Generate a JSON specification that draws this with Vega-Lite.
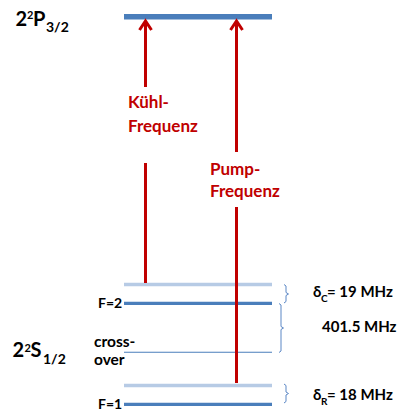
{
  "$schema": "https://vega.github.io/schema/vega-lite/v6.json",
  "width": 398,
  "height": 414,
  "padding": 0,
  "autosize": {"type": "fit", "contains": "padding"},
  "config": {"view": {"stroke": null}, "font": "Lato"},
  "datasets": {
    "levels": [
      {"state": "2P3/2", "x1": 124, "x2": 272, "y": 16.8, "kind": "upper"},
      {"state": "F=2 + δC", "x1": 124, "x2": 272, "y": 284.5, "kind": "shifted"},
      {"state": "F=2", "x1": 124, "x2": 272, "y": 303.3, "kind": "ground"},
      {"state": "crossover", "x1": 124, "x2": 272, "y": 352.3, "kind": "crossover"},
      {"state": "F=1 + δR", "x1": 124, "x2": 272, "y": 385.5, "kind": "shifted"},
      {"state": "F=1", "x1": 124, "x2": 272, "y": 404.3, "kind": "ground"}
    ],
    "arrows": [
      {"transition": "Kühl", "x": 145.5, "y1": 21, "y2": 87},
      {"transition": "Kühl", "x": 145.5, "y1": 163, "y2": 283},
      {"transition": "Pump", "x": 236.5, "y1": 21, "y2": 152},
      {"transition": "Pump", "x": 236.5, "y1": 207, "y2": 383}
    ],
    "heads": [
      {"transition": "Kühl", "x": 145.5, "y": 25.5},
      {"transition": "Pump", "x": 236.5, "y": 25.5}
    ],
    "braces": [
      {"b": "C", "o": 1, "x": 284, "y": 284.5},
      {"b": "C", "o": 2, "x": 286, "y": 286},
      {"b": "C", "o": 3, "x": 286, "y": 292.5},
      {"b": "C", "o": 4, "x": 288.5, "y": 294},
      {"b": "C", "o": 5, "x": 286, "y": 295.5},
      {"b": "C", "o": 6, "x": 286, "y": 301.5},
      {"b": "C", "o": 7, "x": 284, "y": 303},
      {"b": "X", "o": 1, "x": 279, "y": 303.5},
      {"b": "X", "o": 2, "x": 281, "y": 305},
      {"b": "X", "o": 3, "x": 281, "y": 326.5},
      {"b": "X", "o": 4, "x": 283.5, "y": 328},
      {"b": "X", "o": 5, "x": 281, "y": 329.5},
      {"b": "X", "o": 6, "x": 281, "y": 351},
      {"b": "X", "o": 7, "x": 279, "y": 352.5},
      {"b": "R", "o": 1, "x": 284, "y": 384},
      {"b": "R", "o": 2, "x": 286, "y": 385.5},
      {"b": "R", "o": 3, "x": 286, "y": 392},
      {"b": "R", "o": 4, "x": 288.5, "y": 393.5},
      {"b": "R", "o": 5, "x": 286, "y": 395},
      {"b": "R", "o": 6, "x": 286, "y": 401.5},
      {"b": "R", "o": 7, "x": 284, "y": 403}
    ],
    "labels": [
      {"text": "2", "x": 15.5, "y": 25.7, "kind": "big"},
      {"text": "2", "x": 27, "y": 19, "kind": "sup"},
      {"text": "P", "x": 33, "y": 25.7, "kind": "big"},
      {"text": "3/2", "x": 46, "y": 32.3, "kind": "sub"},
      {"text": "2", "x": 12.5, "y": 356.7, "kind": "big"},
      {"text": "2", "x": 24.5, "y": 351.7, "kind": "sup"},
      {"text": "S", "x": 30.5, "y": 356.7, "kind": "big"},
      {"text": "1/2", "x": 43, "y": 364.3, "kind": "sub"},
      {"text": "F=2", "x": 98, "y": 308.3, "kind": "label"},
      {"text": "F=1", "x": 98, "y": 409.3, "kind": "label"},
      {"text": "cross-", "x": 94, "y": 346.7, "kind": "cross"},
      {"text": "over", "x": 94, "y": 365, "kind": "cross"},
      {"text": "401.5 MHz", "x": 322, "y": 332, "kind": "right"},
      {"text": "δ", "x": 313, "y": 297, "kind": "right"},
      {"text": "C", "x": 321, "y": 302, "kind": "small"},
      {"text": "= 19 MHz", "x": 327, "y": 297, "kind": "right"},
      {"text": "δ", "x": 313, "y": 400, "kind": "right"},
      {"text": "R", "x": 321, "y": 405, "kind": "small"},
      {"text": "= 18 MHz", "x": 327, "y": 400, "kind": "right"},
      {"text": "Kühl-", "x": 128, "y": 108, "kind": "red"},
      {"text": "Frequenz", "x": 128, "y": 132, "kind": "red"},
      {"text": "Pump-", "x": 210, "y": 175, "kind": "red"},
      {"text": "Frequenz", "x": 210, "y": 197, "kind": "red"}
    ]
  },
  "layer": [
    {
      "data": {"name": "levels"},
      "mark": {"type": "rule", "strokeCap": "butt"},
      "encoding": {
        "x": {"field": "x1", "type": "quantitative", "scale": {"domain": [0, 398], "nice": false, "zero": false}, "axis": null},
        "x2": {"field": "x2"},
        "y": {"field": "y", "type": "quantitative", "scale": {"domain": [0, 414], "nice": false, "zero": false, "reverse": true}, "axis": null},
        "color": {"field": "kind", "type": "nominal", "legend": null,
          "scale": {"type": "ordinal", "domain": ["upper", "shifted", "ground", "crossover"], "range": ["#4a7ebb", "#b7cbe5", "#4a7ebb", "#4a7ebb"]}},
        "strokeWidth": {"field": "kind", "type": "nominal", "legend": null,
          "scale": {"type": "ordinal", "domain": ["upper", "shifted", "ground", "crossover"], "range": [5.5, 3.3, 3.3, 1.1]}}
      }
    },
    {
      "data": {"name": "arrows"},
      "mark": {"type": "rule", "color": "#c00000", "strokeWidth": 3, "strokeCap": "butt"},
      "encoding": {
        "x": {"field": "x", "type": "quantitative"},
        "y": {"field": "y1", "type": "quantitative"},
        "y2": {"field": "y2"}
      }
    },
    {
      "data": {"name": "heads"},
      "mark": {"type": "point", "shape": "M-1,0.75L0,-0.75L1,0.75", "filled": false, "stroke": "#c00000", "strokeWidth": 3, "size": 144, "opacity": 1, "strokeJoin": "miter"},
      "encoding": {
        "x": {"field": "x", "type": "quantitative"},
        "y": {"field": "y", "type": "quantitative"}
      }
    },
    {
      "data": {"name": "braces"},
      "mark": {"type": "line", "color": "#5b87c5", "strokeWidth": 1},
      "encoding": {
        "x": {"field": "x", "type": "quantitative"},
        "y": {"field": "y", "type": "quantitative"},
        "detail": {"field": "b"},
        "order": {"field": "o", "type": "quantitative"}
      }
    },
    {
      "data": {"name": "labels"},
      "transform": [{"filter": "datum.kind === 'big'"}],
      "mark": {"type": "text", "align": "left", "baseline": "alphabetic", "fontWeight": "bold", "fontSize": 20, "color": "#000000"},
      "encoding": {"x": {"field": "x", "type": "quantitative"}, "y": {"field": "y", "type": "quantitative"}, "text": {"field": "text"}}
    },
    {
      "data": {"name": "labels"},
      "transform": [{"filter": "datum.kind === 'sup'"}],
      "mark": {"type": "text", "align": "left", "baseline": "alphabetic", "fontWeight": "bold", "fontSize": 11, "color": "#000000"},
      "encoding": {"x": {"field": "x", "type": "quantitative"}, "y": {"field": "y", "type": "quantitative"}, "text": {"field": "text"}}
    },
    {
      "data": {"name": "labels"},
      "transform": [{"filter": "datum.kind === 'sub'"}],
      "mark": {"type": "text", "align": "left", "baseline": "alphabetic", "fontWeight": "bold", "fontSize": 14, "color": "#000000"},
      "encoding": {"x": {"field": "x", "type": "quantitative"}, "y": {"field": "y", "type": "quantitative"}, "text": {"field": "text"}}
    },
    {
      "data": {"name": "labels"},
      "transform": [{"filter": "datum.kind === 'label'"}],
      "mark": {"type": "text", "align": "left", "baseline": "alphabetic", "fontWeight": "bold", "fontSize": 14, "color": "#000000"},
      "encoding": {"x": {"field": "x", "type": "quantitative"}, "y": {"field": "y", "type": "quantitative"}, "text": {"field": "text"}}
    },
    {
      "data": {"name": "labels"},
      "transform": [{"filter": "datum.kind === 'cross'"}],
      "mark": {"type": "text", "align": "left", "baseline": "alphabetic", "fontWeight": "bold", "fontSize": 15.5, "color": "#000000"},
      "encoding": {"x": {"field": "x", "type": "quantitative"}, "y": {"field": "y", "type": "quantitative"}, "text": {"field": "text"}}
    },
    {
      "data": {"name": "labels"},
      "transform": [{"filter": "datum.kind === 'right'"}],
      "mark": {"type": "text", "align": "left", "baseline": "alphabetic", "fontWeight": "bold", "fontSize": 15, "color": "#000000"},
      "encoding": {"x": {"field": "x", "type": "quantitative"}, "y": {"field": "y", "type": "quantitative"}, "text": {"field": "text"}}
    },
    {
      "data": {"name": "labels"},
      "transform": [{"filter": "datum.kind === 'small'"}],
      "mark": {"type": "text", "align": "left", "baseline": "alphabetic", "fontWeight": "bold", "fontSize": 10, "color": "#000000"},
      "encoding": {"x": {"field": "x", "type": "quantitative"}, "y": {"field": "y", "type": "quantitative"}, "text": {"field": "text"}}
    },
    {
      "data": {"name": "labels"},
      "transform": [{"filter": "datum.kind === 'red'"}],
      "mark": {"type": "text", "align": "left", "baseline": "alphabetic", "fontWeight": "bold", "fontSize": 17, "color": "#c00000"},
      "encoding": {"x": {"field": "x", "type": "quantitative"}, "y": {"field": "y", "type": "quantitative"}, "text": {"field": "text"}}
    }
  ]
}
